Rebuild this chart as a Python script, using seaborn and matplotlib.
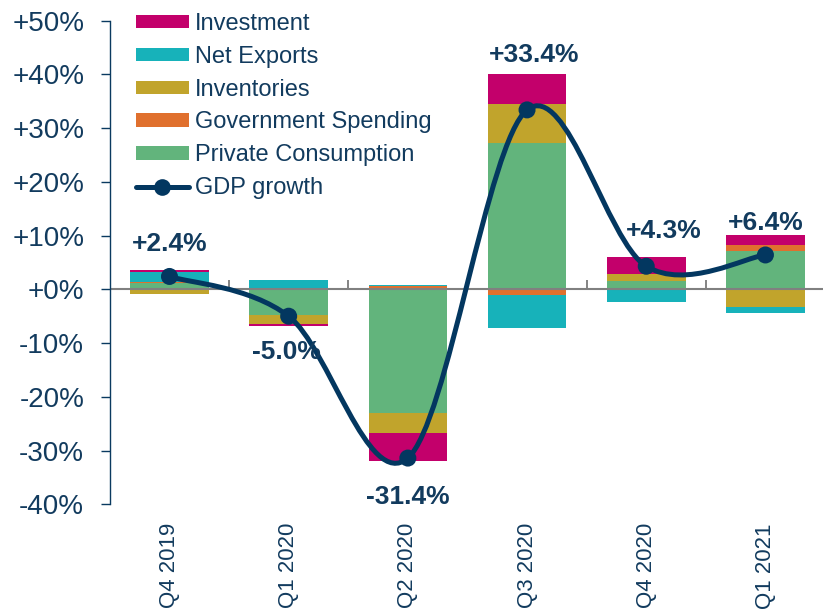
"""
Contribuições para o crescimento do PIB (Q4 2019 - Q1 2021)
Barras empilhadas por componente + linha suavizada do crescimento do PIB.
"""

import numpy as np
import matplotlib.pyplot as plt
import seaborn as sns
from matplotlib.path import Path
from matplotlib.patches import PathPatch, Patch
from matplotlib.lines import Line2D
from matplotlib.ticker import FuncFormatter

QUARTERS = ["Q4 2019", "Q1 2020", "Q2 2020", "Q3 2020", "Q4 2020", "Q1 2021"]

# contribuições em pontos percentuais
PRIVATE_CONSUMPTION = [1.1, -4.8, -23.1, 27.3, 1.5, 7.1]
GOVERNMENT_SPENDING = [0.3, 0.1, 0.6, -1.0, 0.0, 1.2]
INVENTORIES = [-0.8, -1.7, -3.7, 7.2, 1.4, -3.3]
NET_EXPORTS = [1.9, 1.6, 0.3, -6.2, -2.4, -1.1]
INVESTMENT = [0.25, -0.3, -5.2, 5.6, 3.1, 1.8]

GDP_GROWTH = [2.4, -5.0, -31.4, 33.4, 4.3, 6.4]

# ordem de empilhamento (de baixo para cima)
COMPONENTS = [
    ("Private Consumption", PRIVATE_CONSUMPTION, "#62B47C"),
    ("Government Spending", GOVERNMENT_SPENDING, "#E0702E"),
    ("Inventories", INVENTORIES, "#C1A42C"),
    ("Net Exports", NET_EXPORTS, "#17B2BA"),
    ("Investment", INVESTMENT, "#C3006B"),
]

# deslocamento dos rótulos do PIB (pixels)
LABEL_OFFSETS = [(0, 32), (-2, -36), (0, -39), (7, 55), (18, 35), (0, 32)]

NAVY = "#0A3A60"
LINE_COLOR = "#033760"
TEXT_COLOR = "#123B5E"

sns.set_theme(style="white")
plt.rcParams["font.family"] = ["Liberation Sans", "DejaVu Sans"]


def smooth_path(x, y):
    """Curva Bezier estilo Excel (Catmull-Rom) passando pelos pontos."""
    pts = np.column_stack([x, y]).astype(float)
    ext = np.vstack([pts[0], pts, pts[-1]])
    verts = [pts[0]]
    codes = [Path.MOVETO]
    for i in range(len(pts) - 1):
        p0, p1, p2, p3 = ext[i], ext[i + 1], ext[i + 2], ext[i + 3]
        c1 = p1 + (p2 - p0) / 6
        c2 = p2 - (p3 - p1) / 6
        verts += [c1, c2, p2]
        codes += [Path.CURVE4] * 3
    return Path(verts, codes)


def main():
    fig = plt.figure(figsize=(8.23, 6.14), dpi=100)
    ax = fig.add_axes([0.1335, 0.1787, 0.8665, 0.7876])

    x = np.arange(len(QUARTERS))
    pos_base = np.zeros(len(x))
    neg_base = np.zeros(len(x))
    handles = {}
    for name, values, color in COMPONENTS:
        v = np.array(values, dtype=float)
        bottom = np.where(v >= 0, pos_base, neg_base)
        ax.bar(x, v, bottom=bottom, width=0.66, color=color, linewidth=0, zorder=1)
        pos_base += np.where(v >= 0, v, 0)
        neg_base += np.where(v < 0, v, 0)
        handles[name] = Patch(facecolor=color, edgecolor="none")

    # linha do zero
    ax.axhline(0, color="#808080", lw=1.5, zorder=2)

    # marcas entre categorias sobre a linha do zero
    sec = ax.secondary_xaxis(0, transform=ax.transData)
    sec.set_xticks(x[:-1] + 0.5)
    sec.tick_params(axis="x", direction="in", length=6.5, width=1.2,
                    color="#707070", labelbottom=False)
    sec.spines["bottom"].set_visible(False)

    # PIB: curva suavizada + pontos
    ax.add_patch(PathPatch(smooth_path(x, GDP_GROWTH), fill=False,
                           edgecolor=LINE_COLOR, lw=3.6, zorder=3,
                           capstyle="round"))
    sns.scatterplot(x=x, y=GDP_GROWTH, s=150, color=LINE_COLOR,
                    edgecolor="none", zorder=4, ax=ax, legend=False)

    for xi, val, (dx, dy) in zip(x, GDP_GROWTH, LABEL_OFFSETS):
        ax.annotate(f"{val:+.1f}%", xy=(xi, val), xytext=(dx, dy),
                    textcoords="offset pixels", ha="center", va="center",
                    fontsize=19, fontweight="bold", color=TEXT_COLOR, zorder=5)

    # eixos
    ax.set_xlim(-0.5, 5.483)
    ax.set_ylim(-40, 50)
    ax.set_yticks(np.arange(-40, 51, 10))
    ax.yaxis.set_major_formatter(FuncFormatter(lambda v, _: f"{v:+.0f}%"))
    ax.tick_params(axis="y", direction="out", length=6.5, width=1,
                   color=NAVY, labelsize=20, labelcolor=TEXT_COLOR, pad=12, left=True)
    ax.set_xticks(x)
    ax.set_xticklabels(QUARTERS, rotation=90)
    ax.tick_params(axis="x", length=0, labelsize=16, labelcolor=TEXT_COLOR, pad=13.5)

    for side in ["top", "right", "bottom"]:
        ax.spines[side].set_visible(False)
    ax.spines["left"].set_color(NAVY)
    ax.spines["left"].set_linewidth(1)
    ax.set_facecolor("none")
    ax.grid(False)

    # legenda
    leg_names = ["Investment", "Net Exports", "Inventories",
                 "Government Spending", "Private Consumption"]
    leg_handles = [handles[n] for n in leg_names]
    leg_handles.append(Line2D([], [], color=LINE_COLOR, lw=3.6, marker="o",
                              markersize=12, markeredgewidth=0))
    leg = fig.legend(leg_handles, leg_names + ["GDP growth"],
                     loc="upper left", bbox_to_anchor=(0.165, 0.979),
                     bbox_transform=fig.transFigure, frameon=False,
                     fontsize=17, handlelength=2.25, handleheight=0.5,
                     handletextpad=0.25, labelspacing=0.46, borderpad=0,
                     borderaxespad=0)
    for t in leg.get_texts():
        t.set_color(TEXT_COLOR)

    fig.savefig("out.png", dpi=100)
    plt.close(fig)


if __name__ == "__main__":
    main()
